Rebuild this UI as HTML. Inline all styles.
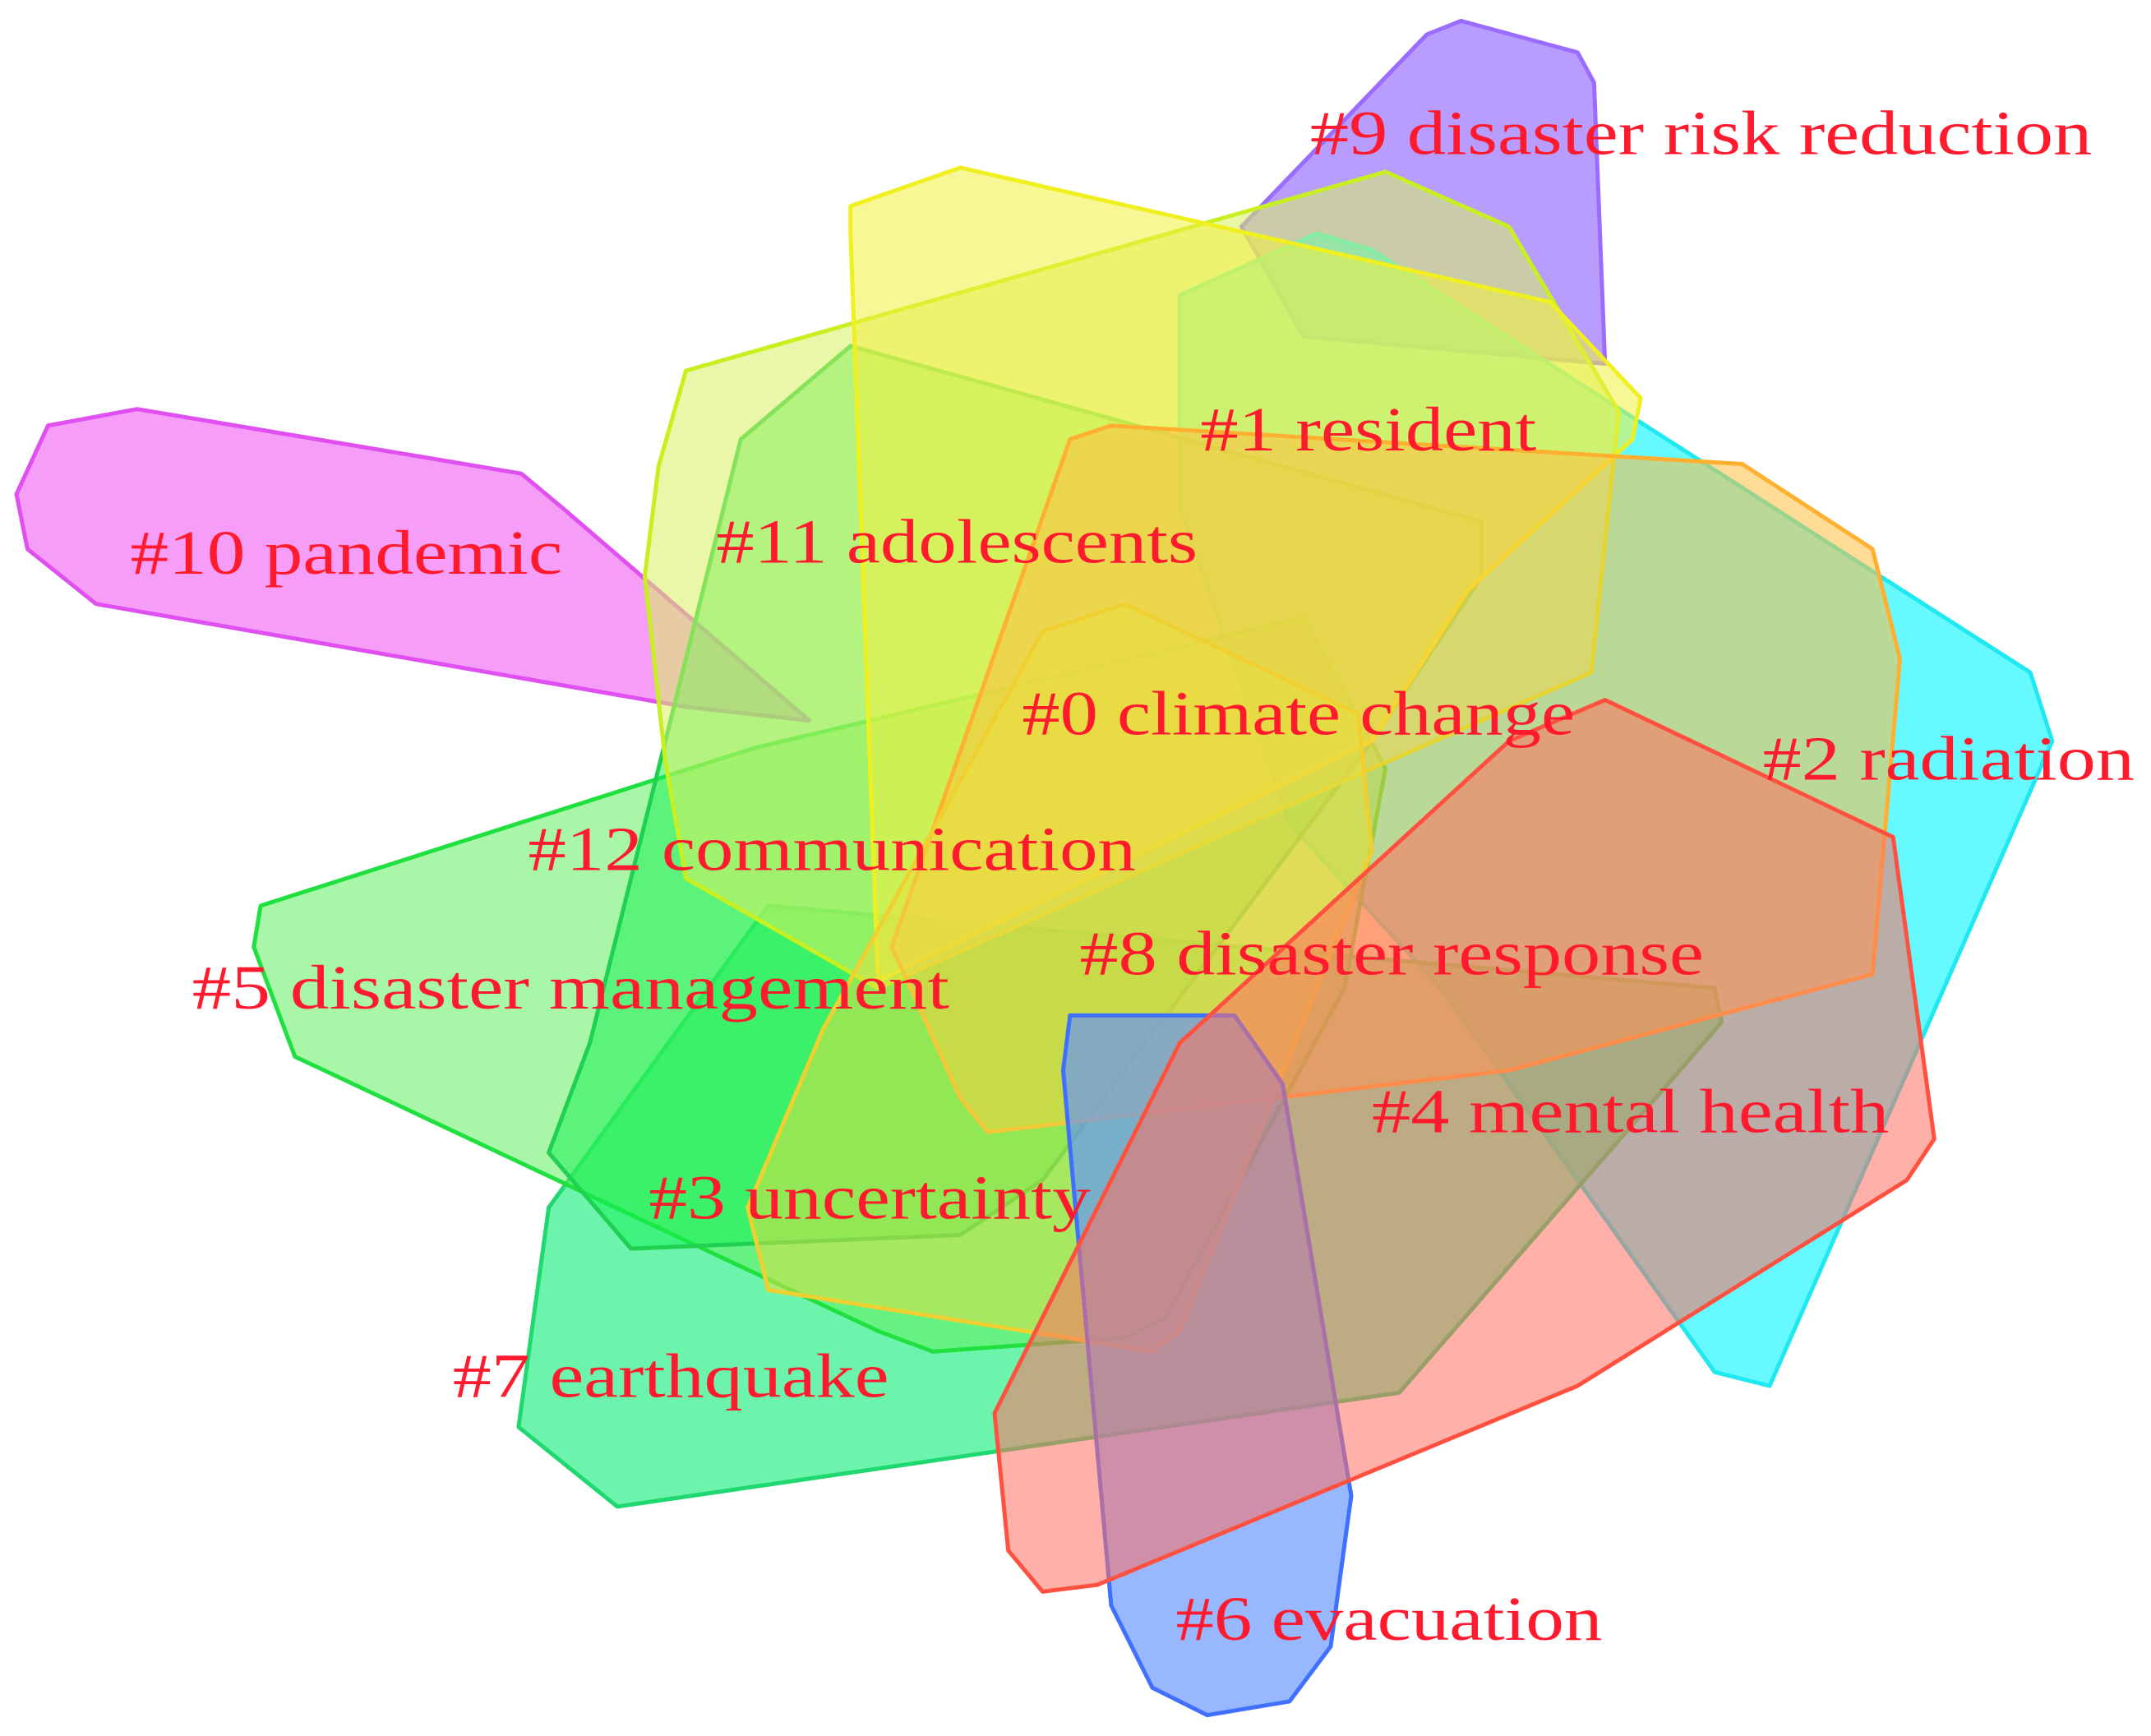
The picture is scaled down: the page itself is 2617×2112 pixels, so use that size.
<!DOCTYPE html>
<html><head><meta charset="utf-8"><style>
html,body{margin:0;padding:0;background:#fff;}
svg{display:block;}
text{font-family:"Liberation Serif",serif;fill:#ff1a2e;font-size:46px;}
</style></head><body>
<svg width="2617" height="2112" viewBox="0 0 1568 1265" xmlns="http://www.w3.org/2000/svg">
<g stroke-linejoin="round" stroke-width="3">
<polygon points="1065,15 1150,38 1162,60 1170,265 950,245 905,165 1040,25" fill="#a07cff" fill-opacity="0.75" stroke="#9a6cff"/>
<polygon points="35,310 100,298 380,345 410,370 590,525 500,515 70,440 20,400 12,360" fill="#f48cf6" fill-opacity="0.85" stroke="#e050f0"/>
<polygon points="960,170 1000,182 1480,490 1496,540 1290,1010 1250,1000 1100,790 1050,720 940,600 860,370 860,215" fill="#00f5ff" fill-opacity="0.6" stroke="#20e8f0"/>
<polygon points="400,880 560,660 1250,720 1255,745 1020,1015 450,1098 378,1040" fill="#2ef08a" fill-opacity="0.7" stroke="#20d870"/>
<polygon points="190,660 550,545 950,450 1010,560 980,720 850,960 820,975 680,985 640,970 215,770 185,690" fill="#60f060" fill-opacity="0.55" stroke="#20e040"/>
<polygon points="540,320 620,252 1080,380 1080,420 1000,540 760,860 700,900 460,910 400,840 430,760" fill="#10f050" fill-opacity="0.5" stroke="#20d050"/>
<polygon points="500,270 1010,125 1100,165 1180,300 1160,490 1000,560 640,720 500,640 485,555 470,420 480,340" fill="#d8f060" fill-opacity="0.55" stroke="#c8f020"/>
<polygon points="620,150 700,122 1130,220 1196,290 1190,320 1070,430 1000,540 640,715 620,170" fill="#f0f040" fill-opacity="0.55" stroke="#f0f020"/>
<polygon points="810,310 1270,338 1365,400 1385,480 1365,710 1100,780 720,825 700,800 650,690 780,320" fill="#ffc040" fill-opacity="0.55" stroke="#ffb030"/>
<polygon points="820,440 990,520 1000,620 860,970 840,985 560,940 545,880 600,750 760,460" fill="#e8e040" fill-opacity="0.5" stroke="#f0d030"/>
<polygon points="780,740 900,740 935,790 985,1090 970,1200 940,1240 880,1250 840,1230 810,1170 775,780" fill="#6090ff" fill-opacity="0.65" stroke="#4070ff"/>
<polygon points="1170,510 1380,610 1410,830 1390,860 1150,1010 800,1155 760,1160 735,1130 725,1030 860,760 1100,540" fill="#ff7060" fill-opacity="0.55" stroke="#ff5040"/>
</g>
<text x="955" y="112" textLength="570" lengthAdjust="spacingAndGlyphs">#9 disaster risk reduction</text>
<text x="875" y="328" textLength="245" lengthAdjust="spacingAndGlyphs">#1 resident</text>
<text x="95" y="418" textLength="315" lengthAdjust="spacingAndGlyphs">#10 pandemic</text>
<text x="522" y="410" textLength="351" lengthAdjust="spacingAndGlyphs">#11 adolescents</text>
<text x="745" y="535" textLength="403" lengthAdjust="spacingAndGlyphs">#0 climate change</text>
<text x="1285" y="568" textLength="271" lengthAdjust="spacingAndGlyphs">#2 radiation</text>
<text x="385" y="634" textLength="443" lengthAdjust="spacingAndGlyphs">#12 communication</text>
<text x="787" y="710" textLength="455" lengthAdjust="spacingAndGlyphs">#8 disaster response</text>
<text x="140" y="735" textLength="552" lengthAdjust="spacingAndGlyphs">#5 disaster management</text>
<text x="1000" y="825" textLength="377" lengthAdjust="spacingAndGlyphs">#4 mental health</text>
<text x="473" y="888" textLength="322" lengthAdjust="spacingAndGlyphs">#3 uncertainty</text>
<text x="330" y="1018" textLength="318" lengthAdjust="spacingAndGlyphs">#7 earthquake</text>
<text x="857" y="1195" textLength="311" lengthAdjust="spacingAndGlyphs">#6 evacuation</text>
</svg>
</body></html>
